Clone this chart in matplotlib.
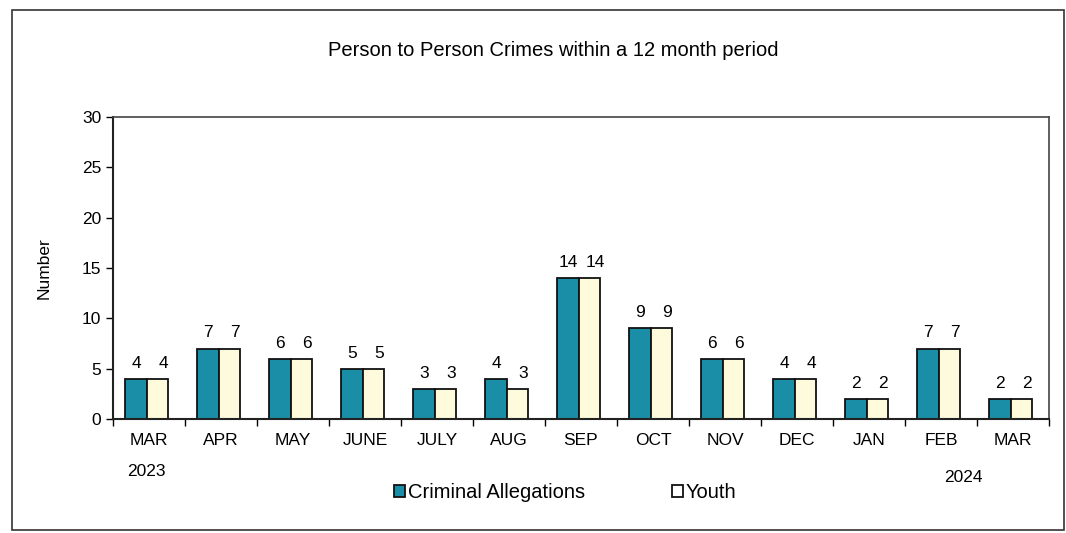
import matplotlib
matplotlib.use("Agg")
import matplotlib.pyplot as plt
import numpy as np
from matplotlib.patches import Rectangle, Patch

months = ["MAR", "APR", "MAY", "JUNE", "JULY", "AUG", "SEP", "OCT", "NOV", "DEC", "JAN", "FEB", "MAR"]
criminal_allegations = [4, 7, 6, 5, 3, 4, 14, 9, 6, 4, 2, 7, 2]
youth = [4, 7, 6, 5, 3, 3, 14, 9, 6, 4, 2, 7, 2]
y_ticks = [0, 5, 10, 15, 20, 25, 30]

plt.rcParams['font.family'] = ['Liberation Sans', 'DejaVu Sans']

fig = plt.figure(figsize=(10.66, 5.33), dpi=100)
fig.patch.set_facecolor('white')

# outer border
fig.add_artist(Rectangle((12/1066, 1 - 530/533), (1064-12)/1066, (530-10)/533,
                         transform=fig.transFigure, fill=False, edgecolor='#333333', lw=1.2))

ax = fig.add_axes([113/1066, 1 - 419/533, (1049-113)/1066, (419-117)/533])

x = np.arange(len(months))
w = 0.3
teal = '#1a8ea6'
cream = '#fdfbdc'
ax.bar(x - w/2 - 0.03, criminal_allegations, w, color=teal, edgecolor='#111111', lw=1.3, label='Criminal Allegations')
ax.bar(x + w/2 - 0.03, youth, w, color=cream, edgecolor='#111111', lw=1.3, label='Youth')

for i in range(len(months)):
    ax.text(x[i] - w/2 - 0.03, criminal_allegations[i] + 0.8, str(criminal_allegations[i]), ha='center', va='bottom', fontsize=12.5)
    ax.text(x[i] + w/2 + 0.05, youth[i] + 0.8, str(youth[i]), ha='center', va='bottom', fontsize=12.5)

ax.set_xlim(-0.5, len(months) - 0.5)
ax.set_ylim(0, 30)
ax.set_yticks(y_ticks)
ax.tick_params(axis='y', labelsize=12.5, direction='out', length=5, width=1)
ax.set_xticks(x)
ax.set_xticklabels(months, fontsize=12.5)
ax.tick_params(axis='x', length=0, pad=10)
ax.set_xticks(np.arange(-0.5, len(months)), minor=True)
ax.tick_params(axis='x', which='minor', length=5, direction='out', width=1)
ax.set_ylabel('Number', fontsize=12.5, labelpad=22)

for s in ['left', 'bottom']:
    ax.spines[s].set_linewidth(1.5)
    ax.spines[s].set_color('#222222')
for s in ['top', 'right']:
    ax.spines[s].set_linewidth(1.2)
    ax.spines[s].set_color('#444444')

fig.text(553/1066, 1 - 50/533, 'Person to Person Crimes within a 12 month period', ha='center', va='center', fontsize=14.5)
fig.text(146/1066, 1 - 471/533, '2023', ha='center', va='center', fontsize=12.5)
fig.text(963/1066, 1 - 477/533, '2024', ha='center', va='center', fontsize=12.5)

handles = [Patch(facecolor=teal, edgecolor='#111111', lw=1.3), Patch(facecolor='white', edgecolor='#111111', lw=1.3)]
labels = ['Criminal Allegations', 'Youth']
leg = fig.legend(handles, labels, loc='center', bbox_to_anchor=(565/1066, 1 - 493/533), ncol=2,
                 frameon=False, fontsize=14.5, handlelength=0.55, handleheight=0.55,
                 handletextpad=0.15, columnspacing=4.3)

fig.savefig('out.png', dpi=100)
